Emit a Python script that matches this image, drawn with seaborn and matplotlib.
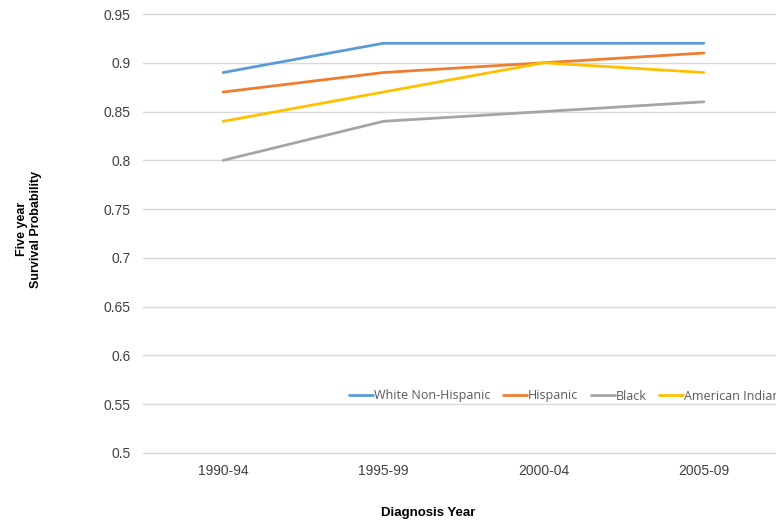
import matplotlib
matplotlib.use("Agg")
import matplotlib.pyplot as plt
import seaborn as sns
import pandas as pd

periods = ["1990-94", "1995-99", "2000-04", "2005-09"]
white_non_hispanic = [0.89, 0.92, 0.92, 0.92]
hispanic = [0.87, 0.89, 0.90, 0.91]
black = [0.80, 0.84, 0.85, 0.86]
american_indian = [0.84, 0.87, 0.90, 0.89]

groups = ["White Non-Hispanic", "Hispanic", "Black", "American Indian"]
colors = ["#5B9BD5", "#ED7D31", "#A5A5A5", "#FFC000"]
yticks = [0.5, 0.55, 0.6, 0.65, 0.7, 0.75, 0.8, 0.85, 0.9, 0.95]
ytick_labels = ["0.5", "0.55", "0.6", "0.65", "0.7", "0.75", "0.8", "0.85", "0.9", "0.95"]

df = pd.DataFrame({
    "period": periods * 4,
    "value": white_non_hispanic + hispanic + black + american_indian,
    "group": [g for g in groups for _ in periods],
})

sns.set_theme(style="white")
plt.rcParams["font.family"] = ["Liberation Sans", "DejaVu Sans"]

W, H = 776, 525
fig = plt.figure(figsize=(W / 100, H / 100), dpi=100)
left, right = 143, 784
top, bottom = 14, 453
ax = fig.add_axes([left / W, 1 - bottom / H, (right - left) / W, (bottom - top) / H])

ax.set_ylim(0.5, 0.95)
ax.set_xlim(-0.5, 3.5)
ax.set_yticks(yticks)
ax.set_yticklabels(ytick_labels)
ax.yaxis.grid(True, color="#D9D9D9", linewidth=1.0)
for gl in ax.get_ygridlines():
    gl.set_clip_on(False)
ax.set_axisbelow(True)

sns.lineplot(data=df, x="period", y="value", hue="group", hue_order=groups,
             palette=colors, linewidth=2.0, ax=ax, sort=False)

for s in ax.spines.values():
    s.set_visible(False)
ax.tick_params(axis="both", length=0, labelsize=10, labelcolor="#404040")
ax.tick_params(axis="y", pad=9)
ax.tick_params(axis="x", pad=8)
ax.set_xlabel("")
ax.set_ylabel("")

fig.text(428 / W, 1 - 513 / H, "Diagnosis Year", ha="center", va="center",
         fontsize=9.5, fontweight="bold", color="#000000")
fig.text(29 / W, 1 - 229 / H, "Five year\nSurvival Probability", ha="center",
         va="center", rotation=90, fontsize=9, fontweight="bold",
         color="#000000", linespacing=1.15)

handles, labels = ax.get_legend_handles_labels()
ax.legend(handles, labels, loc="center left",
          bbox_to_anchor=(338 / W, 1 - 396 / H), bbox_transform=fig.transFigure,
          ncol=4, frameon=False, handlelength=1.9,
          handletextpad=0.1, columnspacing=1.0, labelcolor="#595959",
          prop={"family": ["Open Sans", "DejaVu Sans"], "size": 9})

fig.savefig("out.png", dpi=100)
